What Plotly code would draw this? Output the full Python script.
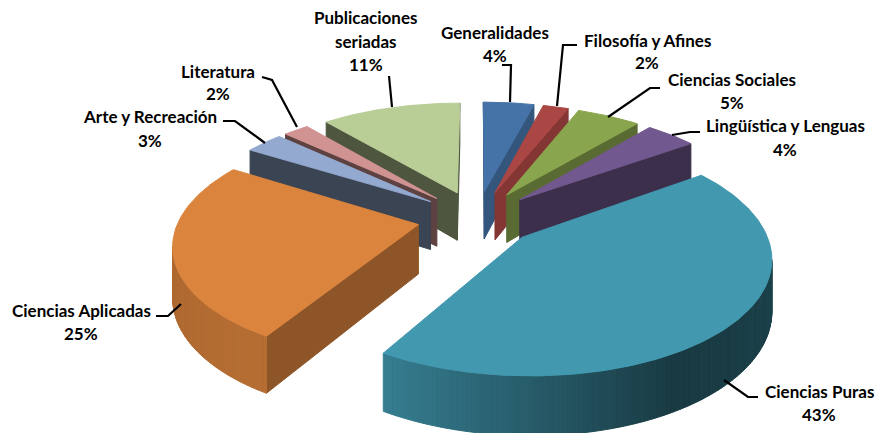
import numpy as np
import plotly.graph_objects as go

categories = ["Generalidades", "Filosofía y Afines", "Ciencias Sociales", "Lingüística y Lenguas",
              "Ciencias Puras", "Ciencias Aplicadas", "Arte y Recreación", "Literatura", "Publicaciones seriadas"]
values = [4, 2, 5, 4, 43, 25, 3, 2, 11]
top_colors = ["#4573A7", "#AA4643", "#89A54E", "#71588F", "#4198AF", "#DB843D", "#93A9CF", "#D19392", "#B9CD96"]
wall_shades = [0.75, 0.77, 0.65, 0.53, 0.42, 0.65, 0.40, 0.45, 0.42]

# Label text lines with centre positions (pixels)
label_lines = [
    ("Publicaciones", 366, 17), ("seriadas", 366, 41), ("11%", 366, 64),
    ("Generalidades", 495, 32), ("4%", 495, 55),
    ("Filosofía y Afines", 647, 40), ("2%", 647, 62),
    ("Ciencias Sociales", 732, 79), ("5%", 732, 102),
    ("Lingüística y Lenguas", 785, 125), ("4%", 785, 149),
    ("Ciencias Puras", 819, 391), ("43%", 819, 414),
    ("Ciencias Aplicadas", 81, 310), ("25%", 81, 333),
    ("Arte y Recreación", 150, 116), ("3%", 150, 140),
    ("Literatura", 218, 71), ("2%", 218, 93),
]
leaders = [
    [(389, 76), (392, 107)],
    [(510, 102), (511, 65), (502, 65)],
    [(557, 106), (563, 45), (577, 45)],
    [(608, 117), (650, 88), (660, 88)],
    [(672, 135), (690, 132), (700, 132)],
    [(724, 380), (748, 397), (758, 397)],
    [(181, 304), (168, 316), (156, 316)],
    [(265, 143), (235, 121), (223, 121)],
    [(297, 127), (272, 80), (262, 77)],
]

# Perspective projection of the tilted pie
CX, CY, SX, SY, SH, K, EXPLODE = 477, 218, 239, 110.7, 49, 0.154, 0.25


def project(x, y, down):
    s = 1 / (1 + K * y)
    return CX + SX * x * s, CY - SY * y * s + SH * down * s


def shade(hex_color, f):
    r, g, b = (int(hex_color[i:i + 2], 16) for i in (1, 3, 5))
    return f"rgb({r * f:.0f},{g * f:.0f},{b * f:.0f})"


def outer_shade(deg):
    return np.interp(deg, [90, 150, 180, 211, 270, 360], [0.44, 0.38, 0.60, 0.83, 0.78, 0.6])


fig = go.Figure()


def poly(xs, ys, color):
    fig.add_trace(go.Scatter(x=list(xs) + [xs[0]], y=list(ys) + [ys[0]], mode="lines", fill="toself",
                             fillcolor=color, line=dict(color=color, width=1),
                             hoverinfo="skip", showlegend=False))


def wall(p, q, color):
    """Quad below the world edge p->q, drawn when it faces the viewer."""
    x1, y1 = project(p[0], p[1], 0)
    x2, y2 = project(q[0], q[1], 0)
    x3, y3 = project(q[0], q[1], 1)
    x4, y4 = project(p[0], p[1], 1)
    xs, ys = [x1, x2, x3, x4], [y1, y2, y3, y4]
    area = 0.5 * sum(xs[i] * ys[(i + 1) % 4] - xs[(i + 1) % 4] * ys[i] for i in range(4))
    if area > 0:
        poly(xs, ys, color)


fractions = np.array(values) / sum(values)
edges = np.concatenate([[0], np.cumsum(fractions)]) * 2 * np.pi
mids = (edges[:-1] + edges[1:]) / 2

for i in np.argsort(-np.cos(mids)):
    a0, a1 = edges[i], edges[i + 1]
    ox, oy = EXPLODE * np.sin(mids[i]), EXPLODE * np.cos(mids[i])
    n = max(4, int(np.degrees(a1 - a0)))
    th = np.linspace(a0, a1, n + 1)
    px, py = ox + np.sin(th), oy + np.cos(th)
    apex = (ox, oy)
    col = top_colors[i]
    wall((px[0], py[0]), apex, shade(col, wall_shades[i]))
    wall(apex, (px[-1], py[-1]), shade(col, wall_shades[i]))
    # rim, walked the other way round so it shares the winding of the radial faces
    for j in range(n):
        deg = np.degrees((th[j] + th[j + 1]) / 2)
        wall((px[j + 1], py[j + 1]), (px[j], py[j]), shade(col, float(outer_shade(deg))))
    # top surface
    tx, ty = project(np.append(px, ox), np.append(py, oy), 0)
    poly(list(tx), list(ty), col)

shapes = []
for pts in leaders:
    path = "M " + " L ".join(f"{x},{y}" for x, y in pts)
    shapes.append(dict(type="path", path=path, xref="x", yref="y", line=dict(color="black", width=2.2)))

annotations = [dict(x=x, y=y, xref="x", yref="y", text=f"<b>{t}</b>", showarrow=False,
                    xanchor="center", yanchor="middle",
                    font=dict(family="Lato", size=17, color="black"))
               for t, x, y in label_lines]

fig.update_layout(
    width=878, height=433, margin=dict(l=0, r=0, t=0, b=0),
    paper_bgcolor="white", plot_bgcolor="white", showlegend=False,
    xaxis=dict(range=[0, 878], visible=False, fixedrange=True),
    yaxis=dict(range=[433, 0], visible=False, fixedrange=True),
    shapes=shapes, annotations=annotations,
)
fig.write_html("out.html", config={"displayModeBar": False},
               post_script="document.body.style.margin='0';document.body.style.overflow='hidden';")
